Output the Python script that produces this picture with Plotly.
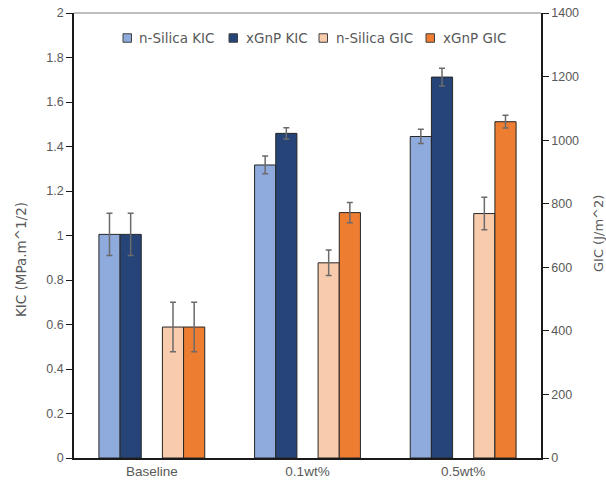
import plotly.graph_objects as go

# Fracture toughness (KIC) and fracture energy (GIC) by filler loading
categories = ["Baseline", "0.1wt%", "0.5wt%"]

silica_kic = [1.005, 1.317, 1.445]
silica_kic_err = [0.095, 0.040, 0.032]
gnp_kic = [1.005, 1.459, 1.712]
gnp_kic_err = [0.095, 0.025, 0.040]

silica_gic = [412, 614, 769]
silica_gic_err = [78, 40, 51]
gnp_gic = [412, 772, 1058]
gnp_gic_err = [78, 32, 20]

series_names = ["n-Silica KIC", "xGnP KIC", "n-Silica GIC", "xGnP GIC"]
series_colors = ["#8FAADC", "#264478", "#F8CBAD", "#ED7D31"]

# figure geometry (px)
W, H = 606, 493
ML, MR, MT, MB = 74, 65, 13, 35
PW, PH = W - ML - MR, H - MT - MB


def px_x(px):
    return (px - ML) / PW


def px_y(py):
    return (H - MB - py) / PH


BAR_W = 0.136
OFFSETS = [-0.34, -0.204, 0.068, 0.204]
ERR_COLOR = "#6B6B6B"
OUTLINE = "#262626"
TEXT = "#595959"
AXIS = "#1a1a1a"

fig = go.Figure()

series = [
    (silica_kic, silica_kic_err, "y"),
    (gnp_kic, gnp_kic_err, "y"),
    (silica_gic, silica_gic_err, "y2"),
    (gnp_gic, gnp_gic_err, "y2"),
]
for (vals, errs, yax), name, color, off in zip(series, series_names, series_colors, OFFSETS):
    fig.add_trace(go.Bar(
        x=categories, y=vals, name=name, yaxis=yax,
        width=BAR_W, offset=off, showlegend=False,
        marker=dict(color=color, line=dict(color=OUTLINE, width=1)),
        error_y=dict(type="data", array=errs, visible=True,
                     color=ERR_COLOR, thickness=1.5, width=3),
    ))

tick_font = dict(family="Liberation Sans", size=12.5, color=TEXT)
fig.update_layout(
    width=W, height=H,
    margin=dict(l=ML, r=MR, t=MT, b=MB),
    paper_bgcolor="white", plot_bgcolor="white",
    barmode="overlay",
    xaxis=dict(
        type="category", showline=True, linecolor=AXIS, linewidth=1.5,
        ticks="", showgrid=False, automargin=False,
        tickfont=dict(family="Liberation Sans", size=13.5, color=TEXT),
    ),
    yaxis=dict(
        range=[0, 2], dtick=0.2, showgrid=False, zeroline=False, automargin=False,
        showline=True, linecolor=AXIS, linewidth=1.5,
        ticks="outside", ticklen=6, tickcolor=AXIS, tickwidth=1,
        tickfont=tick_font,
    ),
    yaxis2=dict(
        overlaying="y", side="right", range=[0, 1400], dtick=200,
        showgrid=False, zeroline=False, automargin=False,
        showline=True, linecolor=AXIS, linewidth=1.5,
        ticks="outside", ticklen=6, tickcolor=AXIS, tickwidth=1,
        tickfont=tick_font,
    ),
)

# Top frame edge of the plotting area
fig.add_shape(type="line", xref="paper", yref="paper", x0=0, x1=1, y0=1, y1=1,
              line=dict(color="#7F7F7F", width=1.2))

# Legend row: swatch + label for each series
legend_swatch_left = [123, 229, 319, 426]
legend_text_left = [137, 244, 334, 441]
SW = 8.5
LEG_Y = 38
for name, color, sx, tx in zip(series_names, series_colors, legend_swatch_left, legend_text_left):
    fig.add_shape(type="rect", xref="paper", yref="paper",
                  x0=px_x(sx), x1=px_x(sx + SW),
                  y0=px_y(LEG_Y + SW / 2), y1=px_y(LEG_Y - SW / 2),
                  fillcolor=color, line=dict(color="#404040", width=1))
    fig.add_annotation(text=name, xref="paper", yref="paper",
                       x=px_x(tx), y=px_y(LEG_Y), xanchor="left", yanchor="middle",
                       showarrow=False,
                       font=dict(family="DejaVu Sans", size=13.5, color=TEXT))

# Axis titles
fig.add_annotation(text="KIC (MPa.m^1/2)", xref="paper", yref="paper",
                   x=px_x(21), y=px_y(260), xanchor="center", yanchor="middle",
                   textangle=-90, showarrow=False,
                   font=dict(family="DejaVu Sans", size=13.5, color=TEXT))
fig.add_annotation(text="GIC (J/m^2)", xref="paper", yref="paper",
                   x=px_x(598), y=px_y(234), xanchor="center", yanchor="middle",
                   textangle=-90, showarrow=False,
                   font=dict(family="DejaVu Sans", size=13, color=TEXT))

fig.write_html("out.html")
